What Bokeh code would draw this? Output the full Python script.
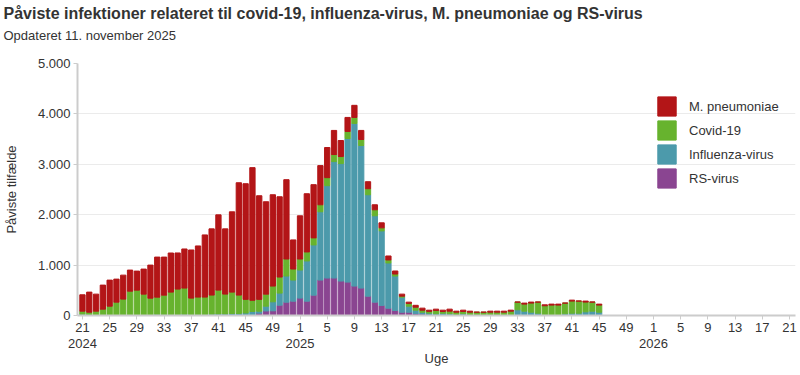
from bokeh.plotting import figure
from bokeh.models import (FixedTicker, Legend, LegendItem, Title,
                          Range1d, ColumnDataSource)
from bokeh.embed import file_html
from bokeh.resources import INLINE

# ---- data ----
weeks_2024 = list(range(21, 53))
weeks_2025 = list(range(1, 46))

rs_virus = [0, 0, 0, 0, 0, 0, 0, 0, 0, 0, 0, 0, 0, 0, 0, 0,
            0, 0, 0, 0, 0, 0, 0, 0, 0, 10, 46, 90, 93, 205, 265, 285,
            345, 285, 404, 703, 743, 743, 683, 663, 584, 544, 384, 265, 200, 145, 100, 66,
            66, 36, 28, 10, 5, 5, 3, 0, 0, 0, 0, 0, 0, 0, 0, 0,
            0, 0, 0, 0, 0, 0, 0, 0, 0, 0, 0, 0, 0]
influenza = [25, 10, 10, 10, 10, 10, 10, 10, 10, 10, 10, 25, 15, 15, 15, 25,
             15, 15, 15, 27, 30, 30, 40, 40, 50, 70, 39, 95, 179, 239, 518, 418,
             557, 797, 996, 1355, 1833, 2311, 2331, 2849, 3227, 2829, 2012, 1713, 1479, 897, 683, 298,
             119, 70, 38, 38, 28, 41, 30, 10, 33, 10, 5, 5, 5, 5, 5, 10,
             113, 86, 66, 46, 13, 5, 5, 33, 46, 46, 73, 86, 66]
covid19 = [61, 56, 76, 116, 175, 255, 315, 473, 493, 414, 334, 339, 389, 449, 509, 519,
           330, 350, 350, 378, 474, 395, 424, 365, 270, 222, 235, 239, 312, 319, 338, 219,
           219, 179, 140, 139, 159, 140, 140, 140, 119, 119, 120, 119, 60, 60, 40, 20,
           55, 59, 40, 35, 67, 34, 53, 56, 47, 56, 61, 61, 61, 61, 61, 76,
           153, 140, 180, 220, 180, 201, 201, 213, 240, 240, 193, 180, 140]
m_pneumoniae = [325, 398, 338, 477, 517, 457, 476, 418, 378, 497, 656, 795, 755, 776, 717, 776,
                955, 1015, 1234, 1314, 1493, 1294, 1593, 2229, 2295, 2632, 2056, 1833, 1812, 1593, 1574, 578,
                857, 1155, 1056, 777, 598, 478, 318, 278, 240, 180, 139, 100, 100, 79, 60, 40,
                25, 37, 40, 23, 26, 26, 40, 20, 26, 20, 0, 0, 20, 20, 20, 20,
                0, 20, 20, 0, 19, 20, 20, 0, 19, 0, 20, 0, 20]

x_tick_labels = ["21", "25", "29", "33", "37", "41", "45", "49",
                 "1", "5", "9", "13", "17", "21", "25", "29", "33", "37", "41", "45", "49",
                 "1", "5", "9", "13", "17", "21"]
year_labels = ["2024", "2025", "2026"]
y_ticks = [0, 1000, 2000, 3000, 4000, 5000]
y_tick_labels = ["0", "1.000", "2.000", "3.000", "4.000", "5.000"]

series_names = ["RS-virus", "Influenza-virus", "Covid-19", "M. pneumoniae"]
colors = ["#8a4591", "#4c9aab", "#67b32e", "#b31517"]

title_text = "Påviste infektioner relateret til covid-19, influenza-virus, M. pneumoniae og RS-virus"
subtitle_text = "Opdateret 11. november 2025"

# positions: week index starting at week 21, 2024 (2024 has 52 weeks)
n_2024 = len(weeks_2024)
x_pos = list(range(n_2024 + len(weeks_2025)))
year_start_pos = [0, 52 - 21 + 1, 52 - 21 + 1 + 52]
tick_pos = [i * 4 for i in range(len(x_tick_labels))]

tick_text = {t: l for t, l in zip(tick_pos, x_tick_labels)}
for t, y in zip(year_start_pos, year_labels):
    tick_text[t] = tick_text[t] + "\n" + y

source = ColumnDataSource(dict(x=x_pos, rs=rs_virus, flu=influenza,
                               cov=covid19, mp=m_pneumoniae))

FONT = "Liberation Sans"
X0, X1 = -0.73, 104.88

p = figure(width=800, height=369, output_backend="svg", toolbar_location=None,
           x_range=Range1d(X0, X1), y_range=Range1d(0, 5000),
           min_border_left=74, min_border_right=5, min_border_top=0, min_border_bottom=0)
p.outline_line_color = None

renderers = p.vbar_stack(["rs", "flu", "cov", "mp"], x="x", width=0.78,
                         color=colors, source=source)

# x axis (weeks + years)
xa = p.xaxis[0]
xa.ticker = FixedTicker(ticks=tick_pos)
xa.major_label_overrides = tick_text
xa.minor_tick_line_color = None
xa.axis_line_color = "#cccccc"
xa.axis_line_width = 2
xa.major_tick_line_color = "#cccccc"
xa.major_tick_in = 0
xa.major_tick_out = 4
xa.major_label_standoff = 0
xa.major_label_text_font = FONT
xa.major_label_text_font_size = "13px"
xa.major_label_text_color = "#333333"
xa.major_label_text_line_height = 1.1
xa.axis_label = "Uge"
xa.axis_label_text_font = FONT
xa.axis_label_text_font_size = "13px"
xa.axis_label_text_font_style = "normal"
xa.axis_label_text_color = "#333333"
xa.axis_label_text_line_height = 1.0
xa.axis_label_standoff = -3

# y axis
ya = p.yaxis[0]
ya.ticker = FixedTicker(ticks=y_ticks)
ya.major_label_overrides = {t: l for t, l in zip(y_ticks, y_tick_labels)}
ya.minor_tick_line_color = None
ya.axis_line_color = "#cccccc"
ya.axis_line_width = 2
ya.major_tick_line_color = "#cccccc"
ya.major_tick_in = 0
ya.major_tick_out = 4
ya.major_label_standoff = 3
ya.major_label_text_font = FONT
ya.major_label_text_font_size = "13px"
ya.major_label_text_color = "#333333"
ya.axis_label = "Påviste tilfælde"
ya.axis_label_text_font = FONT
ya.axis_label_text_font_size = "13px"
ya.axis_label_text_font_style = "normal"
ya.axis_label_text_color = "#333333"
ya.axis_label_standoff = 16

p.xgrid.grid_line_color = None
p.ygrid.grid_line_color = "#ebebeb"
p.ygrid.grid_line_width = 1

# titles (added nearest-to-plot first)
spacer = Title(text=" ", text_font=FONT, text_font_size="15px", standoff=0)
sub = Title(text=subtitle_text, text_font=FONT, text_font_size="13px",
            text_font_style="normal", text_color="#333333", offset=-74, standoff=4)
main = Title(text=title_text, text_font=FONT, text_font_size="16px", text_font_style="bold",
             text_color="#333333", offset=-74, standoff=4)
p.add_layout(spacer, "above")
p.add_layout(sub, "above")
p.add_layout(main, "above")

# legend
items = [LegendItem(label=series_names[k], renderers=[renderers[k]]) for k in [3, 2, 1, 0]]
legend = Legend(items=items, location=(578, 125), padding=0, margin=0, spacing=0,
                glyph_width=23, glyph_height=24, label_standoff=11,
                label_text_font=FONT, label_text_font_size="13px", label_text_color="#333333",
                border_line_alpha=0, background_fill_alpha=0, label_height=24)
p.add_layout(legend)

open("out.html", "w").write(file_html(p, INLINE))
